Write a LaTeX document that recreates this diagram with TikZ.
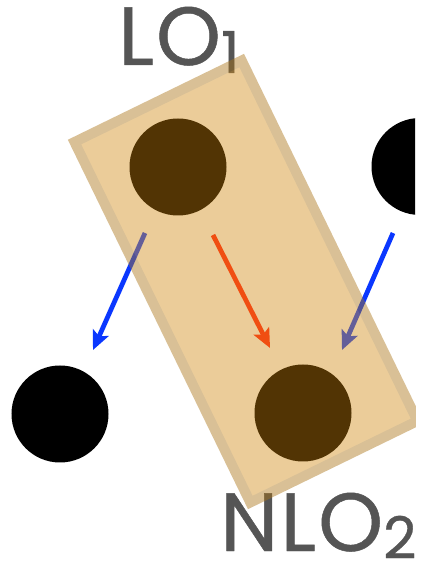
\documentclass[tikz,border=0pt]{standalone}
\usepackage{fontspec}
\setmainfont{Poppins}
\newfontfamily\lblfont{Poppins}[FakeBold=0.6,LetterSpace=2.5]
\usetikzlibrary{arrows.meta}
\definecolor{quark}{RGB}{82,52,4}
\definecolor{boxfill}{RGB}{211,142,29}
\definecolor{boxline}{RGB}{171,116,22}
\definecolor{loblue}{RGB}{10,55,255}
\definecolor{nlored}{RGB}{240,78,18}
\definecolor{lblgray}{RGB}{85,85,85}
\begin{document}
\begin{tikzpicture}[
  dot/.style={circle,inner sep=0pt,minimum size=1.94cm},
  move/.style={line width=2.7pt,-{Stealth[length=.38cm,width=.34cm,inset=.08cm]}},
  lbl/.style={text=lblgray,font=\lblfont\fontsize{47}{47}\selectfont,inner sep=0pt,anchor=base west}]
  \useasboundingbox (0,0) rectangle (8.48,11.26);
  % labels
  \node[lbl] (lo) at (2.36,9.96) {LO\raisebox{-.16cm}{\fontsize{33}{33}\selectfont 1}};
  \node[lbl] (nlo) at (4.40,.24) {NLO\raisebox{-.15cm}{\fontsize{33}{33}\selectfont 2}};
  \begin{scope}
  \clip (0,0) rectangle (8.3,11.26);
  % black points
  \node[dot,fill=black] (left) at (1.20,2.98) {};
  \node[dot,fill=black] (right) at (8.40,7.93) {};
  % blue shifts
  \coordinate (b1s) at (2.90,6.60); \coordinate (b1e) at (1.86,4.26);
  \coordinate (b2s) at (7.86,6.60); \coordinate (b2e) at (6.84,4.26);
  \draw[move,loblue] (b1s)--(b1e);
  \draw[move,loblue] (b2s)--(b2e);
  % box
  \begin{scope}[transparency group,opacity=.45]
    \node[draw=boxline,fill=boxfill,line width=.2cm,minimum width=3.72cm,minimum height=8.02cm,
      inner sep=0pt,rotate=26] (box) at (4.92,5.63) {};
  \end{scope}
  % brown points and red shift
  \node[dot,fill=quark] (top) at (3.56,7.92) {};
  \node[dot,fill=quark] (bot) at (6.06,3.00) {};
  \coordinate (rs) at (4.26,6.56); \coordinate (re) at (5.40,4.30);
  \draw[move,nlored] (rs)--(re);
  \end{scope}
\end{tikzpicture}
\end{document}
